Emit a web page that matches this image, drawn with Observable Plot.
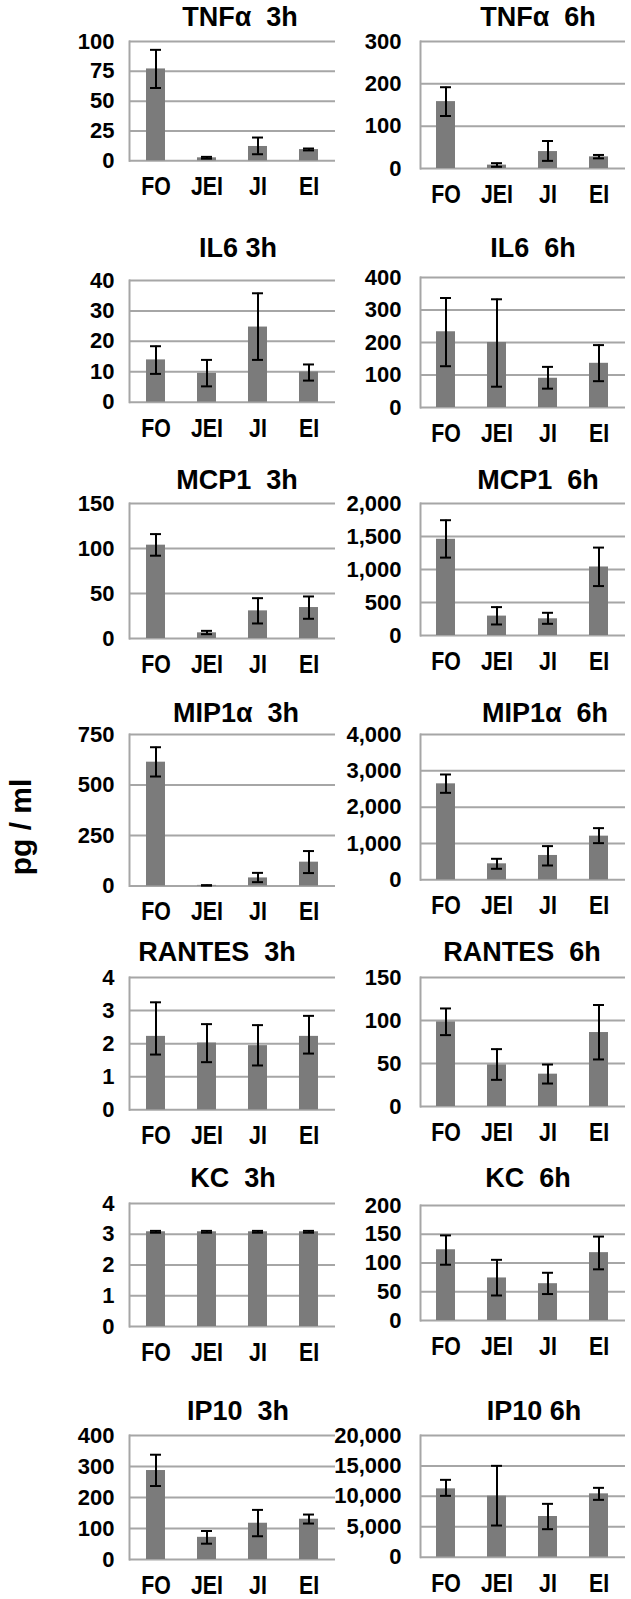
<!DOCTYPE html>
<html>
<head>
<meta charset="utf-8">
<script src="https://cdn.jsdelivr.net/npm/d3@7"></script>
<script src="https://cdn.jsdelivr.net/npm/@observablehq/plot@0.6"></script>
<style>
  body { margin: 0; background: #fff; }
  #root { position: relative; width: 631px; height: 1599px; overflow: hidden; font-family: "Liberation Sans", Arial, sans-serif; font-weight: bold; color: #000; }
  .ttl { position: absolute; font-size: 27px; white-space: pre; transform: translate(-50%, -50%); line-height: 1; }
  .pnl { position: absolute; }
  .pnl svg { overflow: visible; }
</style>
</head>
<body>
<div id="root"></div>
<script>
// ---------- data ----------
const groups = ["FO", "JEI", "JI", "EI"];
const titles = ["TNFα  3h", "TNFα  6h", "IL6 3h", "IL6  6h", "MCP1  3h", "MCP1  6h",
  "MIP1α  3h", "MIP1α  6h", "RANTES  3h", "RANTES  6h", "KC  3h", "KC  6h", "IP10  3h", "IP10 6h"];
const yMax  = [100, 300, 40, 400, 150, 2000, 750, 4000, 4, 150, 4, 200, 400, 20000];
const yStep = [25, 100, 10, 100, 50, 500, 250, 1000, 1, 50, 1, 50, 100, 5000];

const tnf3h = [77, 2.5, 12, 9.4],        tnf3hLo = [61, 1.8, 5.5, 8.7],      tnf3hHi = [93, 3.3, 19.5, 10.3];
const tnf6h = [158, 8, 40, 27.5],        tnf6hLo = [124, 4, 18, 24],         tnf6hHi = [192, 12.6, 65, 32];
const il63h = [13.9, 9.5, 24.7, 9.9],    il63hLo = [9.3, 5.2, 13.9, 7.1],    il63hHi = [18.4, 13.9, 35.8, 12.4];
const il66h = [233, 200, 90, 136],       il66hLo = [127, 64, 58, 81],        il66hHi = [337, 333, 125, 192];
const mcp3h = [103.7, 6.3, 30.7, 34.4],  mcp3hLo = [92, 4.8, 16.7, 21.9],    mcp3hHi = [116, 8.5, 44.8, 46.7];
const mcp6h = [1458, 294, 253, 1038],    mcp6hLo = [1180, 167, 177, 749],    mcp6hHi = [1747, 430, 344, 1332];
const mip3h = [613, 3, 40, 118],         mip3hLo = [542, 2, 19, 64],         mip3hHi = [687, 4, 65, 173];
const mip6h = [2642, 440, 670, 1202],    mip6hLo = [2394, 303, 394, 1009],   mip6hHi = [2899, 578, 927, 1422];
const ran3h = [2.22, 2.02, 1.94, 2.22],  ran3hLo = [1.67, 1.44, 1.34, 1.70], ran3hHi = [3.25, 2.59, 2.56, 2.84];
const ran6h = [98.4, 48.4, 37.6, 86],    ran6hLo = [83, 31, 26.7, 54.7],     ran6hHi = [114, 66.7, 48.8, 118];
const kc3h  = [3.08, 3.08, 3.08, 3.08],  kc3hLo  = [3.05, 3.05, 3.05, 3.05], kc3hHi  = [3.11, 3.11, 3.11, 3.11];
const kc6h  = [123, 74, 64, 118],        kc6hLo  = [97, 43.5, 46, 89],       kc6hHi  = [148, 105.5, 83, 146];
const ip3h  = [287, 71.5, 117, 130],     ip3hLo  = [237, 51, 75, 116],       ip3hHi  = [338, 92, 160, 145];
const ip6h  = [11233, 10027, 6685, 10411], ip6hLo = [10082, 5205, 4603, 9425], ip6hHi = [12712, 15014, 8767, 11397];

const means = [tnf3h, tnf6h, il63h, il66h, mcp3h, mcp6h, mip3h, mip6h, ran3h, ran6h, kc3h, kc6h, ip3h, ip6h];
const lows  = [tnf3hLo, tnf6hLo, il63hLo, il66hLo, mcp3hLo, mcp6hLo, mip3hLo, mip6hLo, ran3hLo, ran6hLo, kc3hLo, kc6hLo, ip3hLo, ip6hLo];
const highs = [tnf3hHi, tnf6hHi, il63hHi, il66hHi, mcp3hHi, mcp6hHi, mip3hHi, mip6hHi, ran3hHi, ran6hHi, kc3hHi, kc6hHi, ip3hHi, ip6hHi];

// ---------- layout (pixel frame of each panel: y of top tick, y of zero; title centres) ----------
const frameTop  = [40.7, 40.7, 280, 277, 503, 503, 734, 734, 976.7, 976.7, 1203, 1205, 1435, 1435];
const frameZero = [160, 167.7, 401.7, 407, 638, 635, 885.5, 879.3, 1109, 1105.7, 1326, 1320, 1559, 1556.7];
const titleX = [240, 538, 238, 533, 237, 538, 236, 545, 217, 522, 233, 528, 238, 534];
const titleY = [17, 248, 480, 713, 952, 1178, 1411];

const root = document.getElementById("root");
const FONT = '"Liberation Sans", Arial, sans-serif';
const GRID = "#a6a6a6";
const BAR = "#7b7b7b";

for (let i = 0; i < 14; i++) {
  const left = i % 2 === 0;
  const x0 = left ? 129 : 420, x1 = left ? 335 : 625;
  const svgLeft = left ? 0 : 330;
  const mt = 20, mb = 50;
  const yt = frameTop[i], y0 = frameZero[i];
  const data = groups.map((g, j) => ({g, v: means[i][j], lo: lows[i][j], hi: highs[i][j]}));
  const ticks = d3.range(0, yMax[i] + yStep[i] / 2, yStep[i]);
  const chart = Plot.plot({
    width: x1 - svgLeft,
    height: (y0 - yt) + mt + mb,
    marginLeft: x0 - svgLeft,
    marginRight: 0,
    marginTop: mt,
    marginBottom: mb,
    style: {background: "none", overflow: "visible", fontFamily: FONT, fontWeight: "bold", color: "#000"},
    x: {domain: groups, paddingInner: 0.62, paddingOuter: 0.31, label: null},
    y: {domain: [0, yMax[i]], label: null},
    marks: [
      Plot.ruleY(ticks, {stroke: GRID, strokeWidth: 2}),
      Plot.frame({anchor: "left", stroke: GRID, strokeWidth: 2}),
      Plot.barY(data, {x: "g", y: "v", fill: BAR}),
      Plot.ruleX(data, {x: "g", y1: "lo", y2: "hi", stroke: "#000", strokeWidth: 2}),
      Plot.tickY(data, {x: "g", y: "hi", stroke: "#000", strokeWidth: 2, insetLeft: 4, insetRight: 4}),
      Plot.tickY(data, {x: "g", y: "lo", stroke: "#000", strokeWidth: 2, insetLeft: 4, insetRight: 4}),
      Plot.axisY(ticks, {tickSize: 0, tickPadding: left ? 15 : 19, tickFormat: d3.format(","), fontSize: 22, fontWeight: "bold", label: null}),
      Plot.axisX({tickSize: 0, tickPadding: 16, fontSize: 26, fontWeight: "bold", label: null})
    ]
  });
  // condense the category labels horizontally (the original uses a narrow face)
  d3.select(chart).selectAll('[aria-label="x-axis tick label"] text').each(function () {
    const el = d3.select(this);
    const x = +el.attr("x") || 0, y = +el.attr("y") || 0;
    const tr = el.attr("transform") || "";
    el.attr("transform", `${tr} translate(${x},${y}) scale(0.82,1) translate(${-x},${-y})`);
  });
  const wrap = document.createElement("div");
  wrap.className = "pnl";
  wrap.style.left = svgLeft + "px";
  wrap.style.top = (yt - mt) + "px";
  wrap.appendChild(chart);
  root.appendChild(wrap);

  const t = document.createElement("div");
  t.className = "ttl";
  t.textContent = titles[i];
  t.style.left = titleX[i] + "px";
  t.style.top = titleY[Math.floor(i / 2)] + "px";
  root.appendChild(t);
}

// y label
const ns = "http://www.w3.org/2000/svg";
const ysvg = document.createElementNS(ns, "svg");
ysvg.setAttribute("width", 60);
ysvg.setAttribute("height", 300);
ysvg.style.position = "absolute";
ysvg.style.left = "0px";
ysvg.style.top = "677px";
const yl = document.createElementNS(ns, "text");
yl.setAttribute("transform", "translate(31,150) rotate(-90)");
yl.setAttribute("text-anchor", "middle");
yl.setAttribute("font-family", FONT);
yl.setAttribute("font-weight", "bold");
yl.setAttribute("font-size", 30);
yl.textContent = "pg / ml";
ysvg.appendChild(yl);
root.appendChild(ysvg);
</script>
</body>
</html>
